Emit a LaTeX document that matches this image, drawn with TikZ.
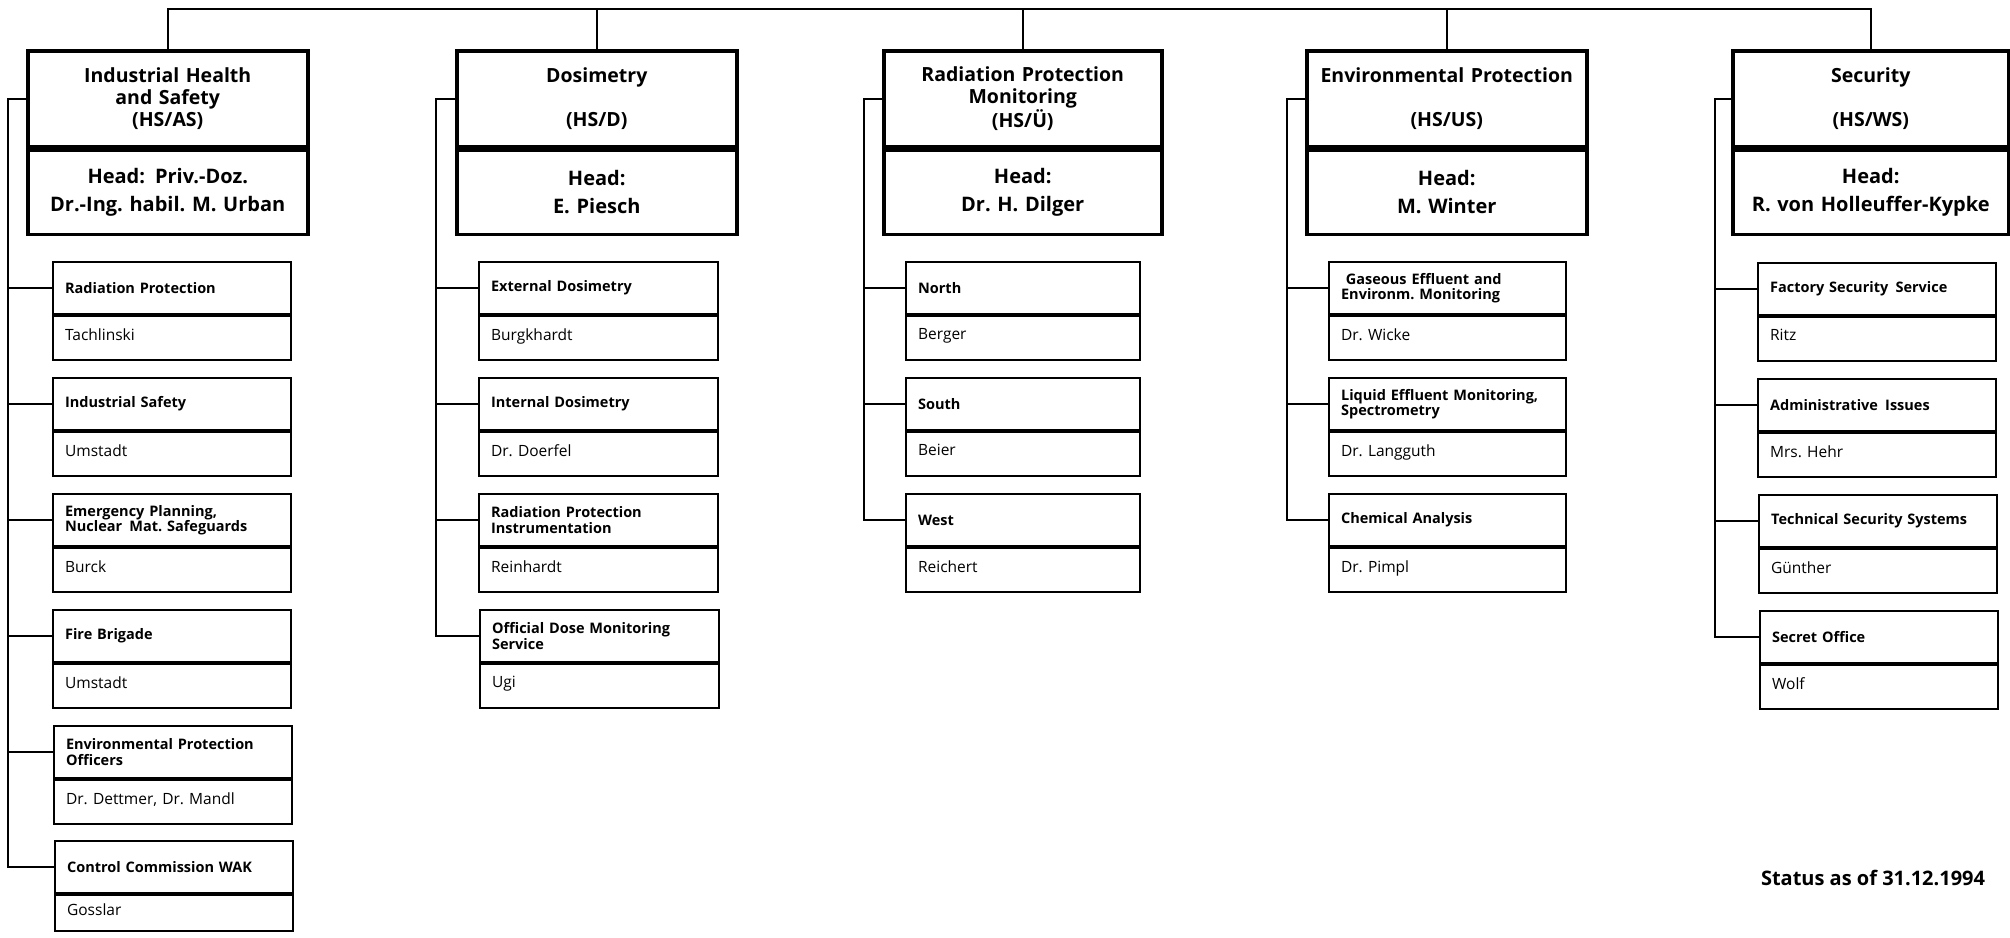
\documentclass[tikz,border=0pt]{standalone}
\usepackage{fontspec}
\setmainfont{Open Sans}
\frenchspacing
\begin{document}
\begin{tikzpicture}[x=1pt,y=-1pt,
  conn/.style={line width=2pt, line cap=rect},
  headtop/.style={draw, line width=3.5pt, anchor=north west, minimum height=96pt,
    inner xsep=3pt, inner ysep=0pt, align=center,
    font=\bfseries\fontsize{19.5}{21.7}\selectfont},
  headbot/.style={draw, line width=3.5pt, anchor=north west, minimum height=84pt,
    inner xsep=3pt, inner ysep=0pt, align=center,
    font=\bfseries\fontsize{20}{28}\selectfont},
  subtop/.style={draw, line width=2.2pt, anchor=north west, minimum height=52pt,
    inner xsep=12pt, inner ysep=0pt, align=left,
    font=\bfseries\fontsize{14.5}{15.5}\selectfont},
  subbot/.style={draw, line width=2.2pt, anchor=north west, minimum height=44pt,
    inner xsep=12pt, inner ysep=0pt, align=left, text depth=8pt,
    font=\fontsize{15.5}{17}\selectfont},
]
\fill[white] (0,0) rectangle (2010,937);
\useasboundingbox (0,0) rectangle (2010,937);

% department box: name, left x, width, title, head of department
\newcommand\orghead[5]{%
  \pgfmathsetmacro\orgtw{#3-6}%
  \node[headtop, text width=\orgtw pt] (#1) at (#2,49) {#4};
  \node[headbot, text width=\orgtw pt] (#1b) at (#1.south west) {#5};
}
% section box: name, left x, top y, width, section, person in charge
\newcommand\orgsub[6]{%
  \pgfmathsetmacro\orgtw{#4-24}%
  \node[subtop, text width=\orgtw pt] (#1) at (#2,#3) {#5};
  \node[subbot, text width=\orgtw pt] (#1b) at (#1.south west) {#6};
}

% departments
\orghead{hA}{26}{280}{Industrial Health\\and Safety\\(HS/AS)}{Head:\enspace Priv.-Doz.\\Dr.-Ing. habil. M. Urban}
\orghead{hB}{455}{280}{Dosimetry\\[21.7pt](HS/D)}{Head:\\E. Piesch}
\orghead{hC}{882}{278}{Radiation Protection\\Monitoring\\(HS/Ü)}{Head:\\Dr. H. Dilger}
\orghead{hD}{1305}{280}{Environmental Protection\\[21.7pt](HS/US)}{Head:\\M. Winter}
\orghead{hE}{1731}{276}{Security\\[21.7pt](HS/WS)}{Head:\\R. von Holleuffer-Kypke}

% sections of HS/AS
\orgsub{a1}{52}{261}{238}{Radiation Protection}{Tachlinski}
\orgsub{a2}{52}{377}{238}{Industrial Safety}{Umstadt}
\orgsub{a3}{52}{493}{238}{Emergency Planning,\\Nuclear\enspace Mat. Safeguards}{Burck}
\orgsub{a4}{52}{609}{238}{Fire Brigade}{Umstadt}
\orgsub{a5}{53}{725}{238}{Environmental Protection\\Officers}{Dr. Dettmer, Dr. Mandl}
\node[subtop, text width=214pt] (a6) at (54,840) {Control Commission WAK};
\node[subbot, text width=214pt, minimum height=36pt] (a6b) at (a6.south west) {Gosslar};

% sections of HS/D
\orgsub{b1}{478}{261}{239}{External Dosimetry}{Burgkhardt}
\orgsub{b2}{478}{377}{239}{Internal Dosimetry}{Dr. Doerfel}
\orgsub{b3}{478}{493}{239}{Radiation Protection\\Instrumentation}{Reinhardt}
\orgsub{b4}{479}{609}{239}{Official Dose Monitoring\\Service}{Ugi}

% sections of HS/Ü
\orgsub{c1}{905}{261}{234}{North}{Berger}
\orgsub{c2}{905}{377}{234}{South}{Beier}
\orgsub{c3}{905}{493}{234}{West}{Reichert}

% sections of HS/US
\orgsub{d1}{1328}{261}{237}{\ Gaseous Effluent and\\Environm. Monitoring}{Dr. Wicke}
\orgsub{d2}{1328}{377}{237}{Liquid Effluent Monitoring,\\Spectrometry}{Dr. Langguth}
\orgsub{d3}{1328}{493}{237}{Chemical Analysis}{Dr. Pimpl}

% sections of HS/WS
\orgsub{e1}{1757}{262}{238}{Factory Security\enspace Service}{Ritz}
\orgsub{e2}{1757}{378}{238}{Administrative\enspace Issues}{Mrs. Hehr}
\orgsub{e3}{1758}{494}{238}{Technical Security Systems}{Günther}
\orgsub{e4}{1759}{610}{238}{Secret Office}{Wolf}

% top bus joining the departments
\coordinate (bus) at (0,9);
\draw[conn] (hA.north) -- (hA.north |- bus) -- (hE.north |- bus) -- (hE.north);
\foreach \d in {hB,hC,hD} \draw[conn] (\d.north) -- (\d.north |- bus);

% side rails down to the sections
\coordinate (railA) at (8,0);
\coordinate (railB) at (436,0);
\coordinate (railC) at (864,0);
\coordinate (railD) at (1287,0);
\coordinate (railE) at (1715,0);

\draw[conn] (hA.west) -- (hA.west -| railA) -- (a6.west -| railA) -- (a6.west);
\foreach \s in {a1,a2,a3,a4,a5} \draw[conn] (\s.west -| railA) -- (\s.west);
\draw[conn] (hB.west) -- (hB.west -| railB) -- (b4.west -| railB) -- (b4.west);
\foreach \s in {b1,b2,b3} \draw[conn] (\s.west -| railB) -- (\s.west);
\draw[conn] (hC.west) -- (hC.west -| railC) -- (c3.west -| railC) -- (c3.west);
\foreach \s in {c1,c2} \draw[conn] (\s.west -| railC) -- (\s.west);
\draw[conn] (hD.west) -- (hD.west -| railD) -- (d3.west -| railD) -- (d3.west);
\foreach \s in {d1,d2} \draw[conn] (\s.west -| railD) -- (\s.west);
\draw[conn] (hE.west) -- (hE.west -| railE) -- (e4.west -| railE) -- (e4.west);
\foreach \s in {e1,e2,e3} \draw[conn] (\s.west -| railE) -- (\s.west);

\node[font=\bfseries\fontsize{20}{22}\selectfont] (status) at (1873,878) {Status as of 31.12.1994};
\end{tikzpicture}
\end{document}
